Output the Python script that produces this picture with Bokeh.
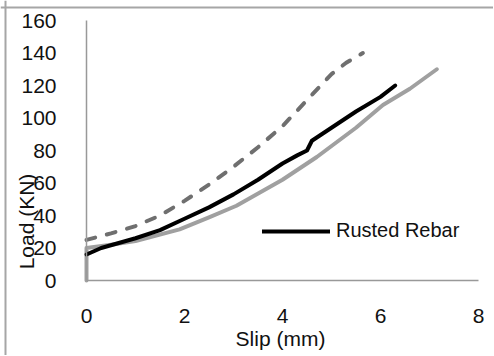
import math
from bokeh.plotting import figure
from bokeh.models import Range1d, Label, Legend, LegendItem, FixedTicker, Span, LinearAxis
from bokeh.embed import file_html
from bokeh.resources import INLINE

# Data
dashed_x = [0, 0.5, 1.0, 1.5, 2.0, 2.5, 3.0, 3.5, 4.0, 4.5, 5.0, 5.3, 5.64]
dashed_y = [25, 29, 33.5, 40, 49, 59, 70, 82, 95, 111, 127, 134, 140]

rusted_x = [0, 0.3, 1.0, 1.5, 2.0, 2.5, 3.0, 3.5, 4.0, 4.3, 4.5, 4.6, 5.0, 5.5, 6.0, 6.3]
rusted_y = [16, 20, 26, 31, 38, 45, 53, 62, 72, 77, 80, 86, 94, 104, 113, 120]

gray_x = [0, 0, 0.5, 1.0, 1.9, 2.5, 3.06, 4.0, 4.7, 5.5, 6.05, 6.6, 7.15]
gray_y = [0, 20, 22, 24.3, 31.5, 38.9, 46, 62, 76, 94, 108, 118, 130]

x_ticks = [0, 2, 4, 6, 8]
y_ticks = [0, 20, 40, 60, 80, 100, 120, 140, 160]

FONT = "Liberation Sans"

# canvas geometry (pixels): the frame covers the whole canvas, axes sit inside at 0
W, H = 493, 355
X0_PX, X8_PX = 86, 478      # where x=0 and x=8 fall
Y0_PX, Y160_PX = 280, 20    # where y=0 and y=160 fall
sx = (X8_PX - X0_PX) / 8.0
sy = (Y0_PX - Y160_PX) / 160.0
x_start = -X0_PX / sx
x_end = (W - X0_PX) / sx
y_start = -(H - Y0_PX) / sy
y_end = 160 + Y160_PX / sy


def px_x(px):
    return x_start + px / sx


def px_y(py):
    return y_end - py / sy


p = figure(width=W, height=H, output_backend="svg", toolbar_location=None,
           x_range=Range1d(x_start, x_end), y_range=Range1d(y_start, y_end),
           min_border=0, x_axis_location=None, y_axis_location=None)
p.outline_line_color = None
p.xgrid.visible = False
p.ygrid.visible = False

xa = LinearAxis(fixed_location=0, bounds=(0, 8))
ya = LinearAxis(fixed_location=0, bounds=(0, 160))
p.add_layout(xa, "below")
p.add_layout(ya, "left")
for ax, ticks in ((xa, x_ticks), (ya, y_ticks)):
    ax.ticker = FixedTicker(ticks=ticks)
    ax.major_tick_line_color = None
    ax.minor_tick_line_color = None
    ax.axis_line_color = "#999999"
    ax.axis_line_width = 1.5
    ax.major_label_text_font = FONT
    ax.major_label_text_font_size = "21px"
    ax.major_label_text_color = "#111111"
xa.major_label_standoff = 22
ya.major_label_standoff = 24

# outer chart border (only top and left edges are visible in the reference)
p.add_layout(Span(location=px_x(5), dimension="height", line_color="#a6a6a6", line_width=2))
p.add_layout(Span(location=px_y(7), dimension="width", line_color="#a6a6a6", line_width=2))

r_gray = p.line(gray_x, gray_y, line_color="#a0a0a0", line_width=4, line_cap="round", line_join="round")
r_dash = p.line(dashed_x, dashed_y, line_color="#6f6f6f", line_width=4, line_dash="9 12",
                line_cap="round", line_join="round")
r_black = p.line(rusted_x, rusted_y, line_color="#000000", line_width=4, line_cap="round", line_join="round")

legend = Legend(items=[LegendItem(label="Rusted Rebar", renderers=[r_black])],
                location=(262, H - 242), border_line_color=None, background_fill_alpha=0,
                padding=0, margin=0, spacing=0, glyph_width=68, label_standoff=6,
                label_text_font=FONT, label_text_font_size="20px", label_text_color="#111111")
p.add_layout(legend, "center")

p.add_layout(Label(x=px_x(280), y=px_y(338), text="Slip (mm)",
                   text_font=FONT, text_font_size="21px", text_color="#111111",
                   text_align="center", text_baseline="middle"))
p.add_layout(Label(x=px_x(26), y=px_y(221), text="Load (KN)",
                   angle=math.pi / 2, text_font=FONT, text_font_size="21px", text_color="#111111",
                   text_align="center", text_baseline="middle"))

open("out.html", "w").write(file_html(p, INLINE))
